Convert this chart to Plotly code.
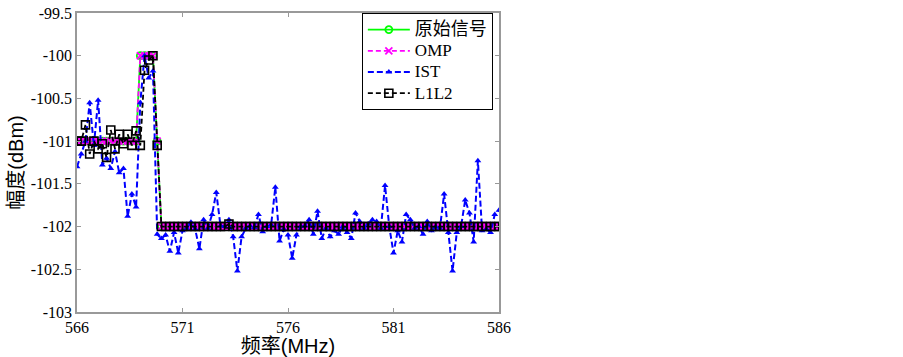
import plotly.graph_objects as go

freq = [round(566 + 0.2 * i, 1) for i in range(101)]

original = [-101.0] * 15 + [-100.0] * 4 + [-101.0] + [-102.0] * 81
omp = [-101.0] * 15 + [-100.0] * 4 + [-101.0] + [-102.0] * 81

ist = [
    -101.30, -101.15, -101.00, -100.55, -101.05, -100.52, -101.28, -101.20, -101.32, -101.12,
    -101.37, -101.32, -101.88, -101.62, -101.77, -100.55, -100.00, -100.26, -100.18, -102.09,
    -102.14, -102.10, -102.29, -102.07, -102.31, -102.05, -102.02, -101.95, -102.03, -102.26,
    -101.92, -102.02, -101.86, -101.60, -101.99, -102.00, -101.92, -102.12, -102.52, -102.12,
    -102.02, -101.99, -102.01, -101.86, -102.06, -102.00, -101.98, -101.54, -102.17, -102.03,
    -102.10, -102.37, -102.10, -102.00, -101.99, -101.92, -102.09, -101.82, -102.14, -102.02,
    -102.12, -102.05, -102.09, -102.00, -102.07, -102.14, -101.84, -101.94, -102.02, -101.97,
    -101.92, -101.94, -102.02, -101.52, -102.00, -102.31, -102.05, -102.18, -101.86, -101.92,
    -102.02, -102.00, -102.09, -101.94, -102.05, -102.00, -102.02, -101.62, -102.07, -102.52,
    -102.07, -102.00, -101.69, -101.84, -102.18, -101.23, -102.05, -102.03, -102.07, -101.86,
    -101.81,
]

l1l2 = [
    -101.00, -101.00, -100.81, -101.15, -101.00, -101.09, -101.03, -101.19, -100.87, -101.09,
    -100.92, -101.03, -100.92, -101.05, -100.88, -101.05, -100.17, -100.05, -100.00, -101.05,
] + [-102.0] * 16 + [-101.97] + [-102.0] * 64

x_ticks = [566, 571, 576, 581, 586]
y_ticks = [-103, -102.5, -102, -101.5, -101, -100.5, -100, -99.5]
y_tick_text = ["-103", "-102.5", "-102", "-101.5", "-101", "-100.5", "-100", "-99.5"]

series_names = ["原始信号", "OMP", "IST", "L1L2"]
legend_sizes = [18, 17, 17, 17]
legend_labels = [f"<span style='font-size:{s}px'>{n}</span>" for n, s in zip(series_names, legend_sizes)]

fig = go.Figure()
fig.add_trace(go.Scatter(
    x=freq, y=original, name=legend_labels[0], mode="lines+markers",
    line=dict(color="#00ff00", width=1.8),
    marker=dict(symbol="circle-open", size=7, color="#00ff00", line=dict(width=1.8)),
))
fig.add_trace(go.Scatter(
    x=freq, y=omp, name=legend_labels[1], mode="lines+markers",
    line=dict(color="#ff00ff", width=1.8, dash="5px,3px"),
    marker=dict(symbol="x-thin-open", size=7, color="#ff00ff", line=dict(width=1.8, color="#ff00ff")),
))
fig.add_trace(go.Scatter(
    x=freq, y=ist, name=legend_labels[2], mode="lines+markers",
    line=dict(color="#0000ff", width=2, dash="6px,3px"),
    marker=dict(symbol="triangle-up", size=6, color="#0000ff"),
))
fig.add_trace(go.Scatter(
    x=freq, y=l1l2, name=legend_labels[3], mode="lines+markers",
    line=dict(color="#000000", width=1.8, dash="5px,3px"),
    marker=dict(symbol="square-open", size=8, color="#000000", line=dict(width=1.6)),
))

axis_common = dict(
    showline=True, linecolor="#999999", linewidth=1.5, mirror="ticks",
    ticks="inside", ticklen=4, tickcolor="#999999", tickwidth=1,
    showgrid=False, zeroline=False, ticklabeloverflow="allow",
    tickfont=dict(family="Liberation Serif", size=16, color="#000000"),
)

fig.update_layout(
    width=903, height=357,
    margin=dict(l=77, r=404, t=5, b=45),
    paper_bgcolor="white", plot_bgcolor="white",
    showlegend=True,
    legend=dict(
        x=0.675, y=1.0, xanchor="left", yanchor="top",
        bgcolor="white", bordercolor="#000000", borderwidth=1,
        font=dict(family="Liberation Serif, Noto Sans CJK SC", size=14, color="#000000"),
        itemwidth=42, tracegroupgap=0,
    ),
    xaxis=dict(
        range=[565.999, 586.001], tickvals=x_ticks, ticktext=[str(v) for v in x_ticks],
        title=dict(text="频率(MHz)", standoff=0,
                   font=dict(family="Liberation Sans, Noto Sans CJK SC", size=20, color="#000000")),
        **axis_common,
    ),
    yaxis=dict(
        range=[-103.0005, -99.4995], tickvals=y_ticks, ticktext=y_tick_text,
        title=dict(text="幅度(dBm)", standoff=2,
                   font=dict(family="Liberation Sans, Noto Sans CJK SC", size=20, color="#000000")),
        **axis_common,
    ),
)

fig.write_html("out.html", config={"displayModeBar": False},
               post_script="document.body.style.margin='0';")
